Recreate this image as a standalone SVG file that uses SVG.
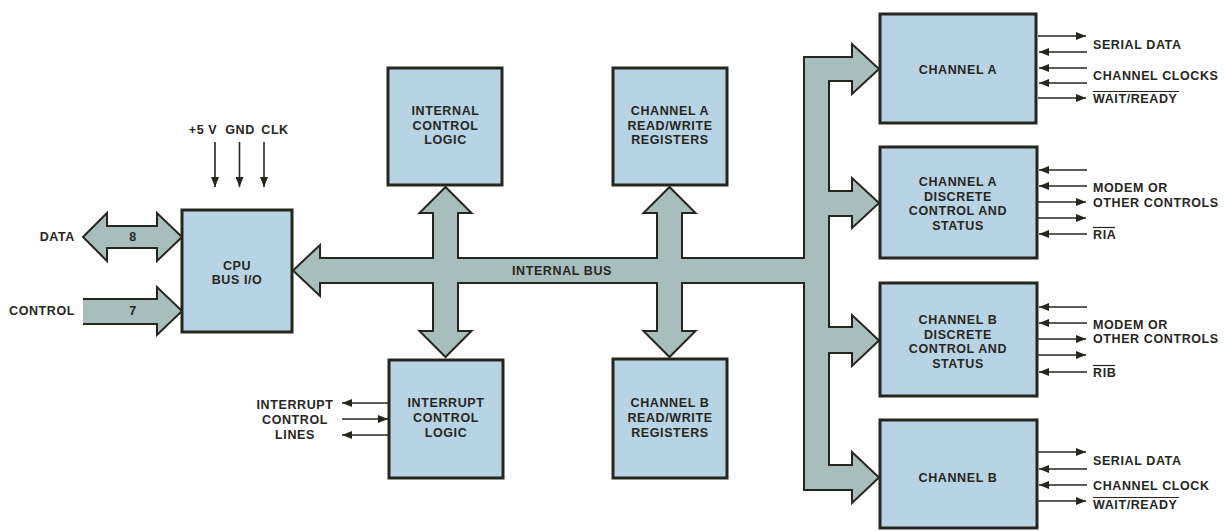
<svg xmlns="http://www.w3.org/2000/svg" width="1225" height="531" viewBox="0 0 1225 531">
<style>
.box{fill:#b8d3e3;stroke:#26261e;stroke-width:3}
.bus{fill:#a7bebd;stroke:#26261e;stroke-width:2;stroke-linejoin:miter}
.t{font-family:"Liberation Sans",Arial,sans-serif;font-weight:bold;font-size:12.5px;letter-spacing:0.6px;fill:#26261e}
.c{text-anchor:middle}
.r{text-anchor:end}
.ln{stroke:#26261e;stroke-width:1.6;fill:none}
.ov{stroke:#26261e;stroke-width:1.2}
</style>
<defs>
<marker id="ah" viewBox="0 0 10 8" refX="10" refY="4" markerWidth="10" markerHeight="8" markerUnits="userSpaceOnUse" orient="auto">
<path d="M0,0 L10,4 L0,8 Z" fill="#26261e"/>
</marker>
</defs>

<g id="connectors">
<path id="internal-bus" class="bus" d="M293,270.5 L320,245 L320,258 L433,258 L433,213 L419.5,213 L445.5,187 L471.5,213 L458,213 L458,258 L657,258 L657,213 L643.5,213 L669.5,187 L695.5,213 L682,213 L682,258 L804,258 L804,57 L852,57 L852,44 L879,69 L852,94 L852,81 L829,81 L829,191 L852,191 L852,178 L879,203 L852,228 L852,216 L829,216 L829,327 L852,327 L852,315 L879,340.5 L852,366 L852,353 L829,353 L829,465 L852,465 L852,452 L879,477.5 L852,503 L852,490 L804,490 L804,283 L682,283 L682,331 L695.5,331 L669.5,357 L643.5,331 L657,331 L657,283 L458,283 L458,331 L471.5,331 L445.5,357 L419.5,331 L433,331 L433,283 L320,283 L320,296 Z"/>
<path id="data-bus" class="bus" d="M83,237 L107,213 L107,226 L157,226 L157,213 L182,237 L157,261 L157,248 L107,248 L107,261 Z"/>
<path id="control-bus-fill" d="M83,299 L157,299 L157,287 L182,311 L157,335 L157,324 L83,324 Z" fill="#a7bebd"/>
<path id="control-bus-edge" class="bus" style="fill:none" d="M83,299 L157,299 L157,287 L182,311 L157,335 L157,324 L83,324"/>
<!-- power inputs -->
<line class="ln" x1="215" y1="142" x2="215" y2="187" marker-end="url(#ah)"/>
<line class="ln" x1="239.5" y1="142" x2="239.5" y2="187" marker-end="url(#ah)"/>
<line class="ln" x1="264" y1="142" x2="264" y2="187" marker-end="url(#ah)"/>
<!-- interrupt lines -->
<line class="ln" x1="388" y1="403" x2="342" y2="403" marker-end="url(#ah)"/>
<line class="ln" x1="342" y1="419" x2="388" y2="419" marker-end="url(#ah)"/>
<line class="ln" x1="388" y1="435" x2="342" y2="435" marker-end="url(#ah)"/>
<!-- channel A -->
<line class="ln" x1="1038" y1="36" x2="1086" y2="36" marker-end="url(#ah)"/>
<line class="ln" x1="1087" y1="52" x2="1039" y2="52" marker-end="url(#ah)"/>
<line class="ln" x1="1087" y1="68" x2="1039" y2="68" marker-end="url(#ah)"/>
<line class="ln" x1="1087" y1="83" x2="1039" y2="83" marker-end="url(#ah)"/>
<line class="ln" x1="1038" y1="98" x2="1086" y2="98" marker-end="url(#ah)"/>
<!-- channel A discrete -->
<line class="ln" x1="1087" y1="170" x2="1039" y2="170" marker-end="url(#ah)"/>
<line class="ln" x1="1087" y1="186" x2="1039" y2="186" marker-end="url(#ah)"/>
<line class="ln" x1="1038" y1="202" x2="1086" y2="202" marker-end="url(#ah)"/>
<line class="ln" x1="1038" y1="218" x2="1086" y2="218" marker-end="url(#ah)"/>
<line class="ln" x1="1087" y1="234" x2="1039" y2="234" marker-end="url(#ah)"/>
<!-- channel B discrete -->
<line class="ln" x1="1087" y1="307" x2="1039" y2="307" marker-end="url(#ah)"/>
<line class="ln" x1="1087" y1="323" x2="1039" y2="323" marker-end="url(#ah)"/>
<line class="ln" x1="1038" y1="339" x2="1086" y2="339" marker-end="url(#ah)"/>
<line class="ln" x1="1038" y1="355" x2="1086" y2="355" marker-end="url(#ah)"/>
<line class="ln" x1="1087" y1="372" x2="1039" y2="372" marker-end="url(#ah)"/>
<!-- channel B -->
<line class="ln" x1="1038" y1="452" x2="1086" y2="452" marker-end="url(#ah)"/>
<line class="ln" x1="1087" y1="469" x2="1039" y2="469" marker-end="url(#ah)"/>
<line class="ln" x1="1087" y1="485" x2="1039" y2="485" marker-end="url(#ah)"/>
<line class="ln" x1="1038" y1="501" x2="1086" y2="501" marker-end="url(#ah)"/>
</g>

<g id="bus-labels">
<text class="t r" x="75" y="241">DATA</text>
<text class="t c" x="133" y="241">8</text>
<text class="t r" x="75" y="315">CONTROL</text>
<text class="t c" x="133" y="315">7</text>
<text class="t c" x="203" y="134">+5 V</text>
<text class="t c" x="240" y="134">GND</text>
<text class="t c" x="275" y="134">CLK</text>
<text class="t" x="512" y="275">INTERNAL BUS</text>
<text class="t c" x="295" y="409">INTERRUPT</text>
<text class="t c" x="295" y="424">CONTROL</text>
<text class="t c" x="295" y="439">LINES</text>
</g>

<g id="cpu-bus-io">
<rect class="box" x="182" y="210" width="110" height="122"/>
<text class="t c" x="237" y="270">CPU</text>
<text class="t c" x="237" y="284">BUS I/O</text>
</g>

<g id="internal-control-logic">
<rect class="box" x="388" y="68" width="114" height="117"/>
<text class="t c" x="445.5" y="115">INTERNAL</text>
<text class="t c" x="445.5" y="129.5">CONTROL</text>
<text class="t c" x="445.5" y="144">LOGIC</text>
</g>

<g id="channel-a-registers">
<rect class="box" x="613" y="68" width="114" height="117"/>
<text class="t c" x="670" y="115">CHANNEL A</text>
<text class="t c" x="670" y="129.5">READ/WRITE</text>
<text class="t c" x="670" y="144">REGISTERS</text>
</g>

<g id="interrupt-control-logic">
<rect class="box" x="389" y="360" width="114" height="118"/>
<text class="t c" x="446" y="407">INTERRUPT</text>
<text class="t c" x="446" y="422">CONTROL</text>
<text class="t c" x="446" y="437">LOGIC</text>
</g>

<g id="channel-b-registers">
<rect class="box" x="613" y="359" width="114" height="119"/>
<text class="t c" x="670" y="407">CHANNEL B</text>
<text class="t c" x="670" y="422">READ/WRITE</text>
<text class="t c" x="670" y="437">REGISTERS</text>
</g>

<g id="channel-a">
<rect class="box" x="880" y="14" width="156" height="109"/>
<text class="t c" x="958" y="74">CHANNEL A</text>
<text class="t" x="1093" y="49">SERIAL DATA</text>
<text class="t" x="1093" y="80">CHANNEL CLOCKS</text>
<text class="t" x="1093" y="103">WAIT/READY</text>
<line class="ov" x1="1093" y1="91.5" x2="1179" y2="91.5"/>
</g>

<g id="channel-a-discrete">
<rect class="box" x="880" y="147" width="157" height="111"/>
<text class="t c" x="958" y="186">CHANNEL A</text>
<text class="t c" x="958" y="200.5">DISCRETE</text>
<text class="t c" x="958" y="215">CONTROL AND</text>
<text class="t c" x="958" y="229.5">STATUS</text>
<text class="t" x="1093" y="192">MODEM OR</text>
<text class="t" x="1093" y="207">OTHER CONTROLS</text>
<text class="t" x="1093" y="239">RIA</text>
<line class="ov" x1="1093" y1="227.5" x2="1115" y2="227.5"/>
</g>

<g id="channel-b-discrete">
<rect class="box" x="880" y="283" width="157" height="113"/>
<text class="t c" x="958" y="324">CHANNEL B</text>
<text class="t c" x="958" y="338.5">DISCRETE</text>
<text class="t c" x="958" y="353">CONTROL AND</text>
<text class="t c" x="958" y="367.5">STATUS</text>
<text class="t" x="1093" y="329">MODEM OR</text>
<text class="t" x="1093" y="343">OTHER CONTROLS</text>
<text class="t" x="1093" y="377">RIB</text>
<line class="ov" x1="1093" y1="365.5" x2="1115" y2="365.5"/>
</g>

<g id="channel-b">
<rect class="box" x="880" y="420" width="157" height="108"/>
<text class="t c" x="958" y="482">CHANNEL B</text>
<text class="t" x="1093" y="465">SERIAL DATA</text>
<text class="t" x="1093" y="490">CHANNEL CLOCK</text>
<text class="t" x="1093" y="509">WAIT/READY</text>
<line class="ov" x1="1093" y1="497.5" x2="1179" y2="497.5"/>
</g>
</svg>
